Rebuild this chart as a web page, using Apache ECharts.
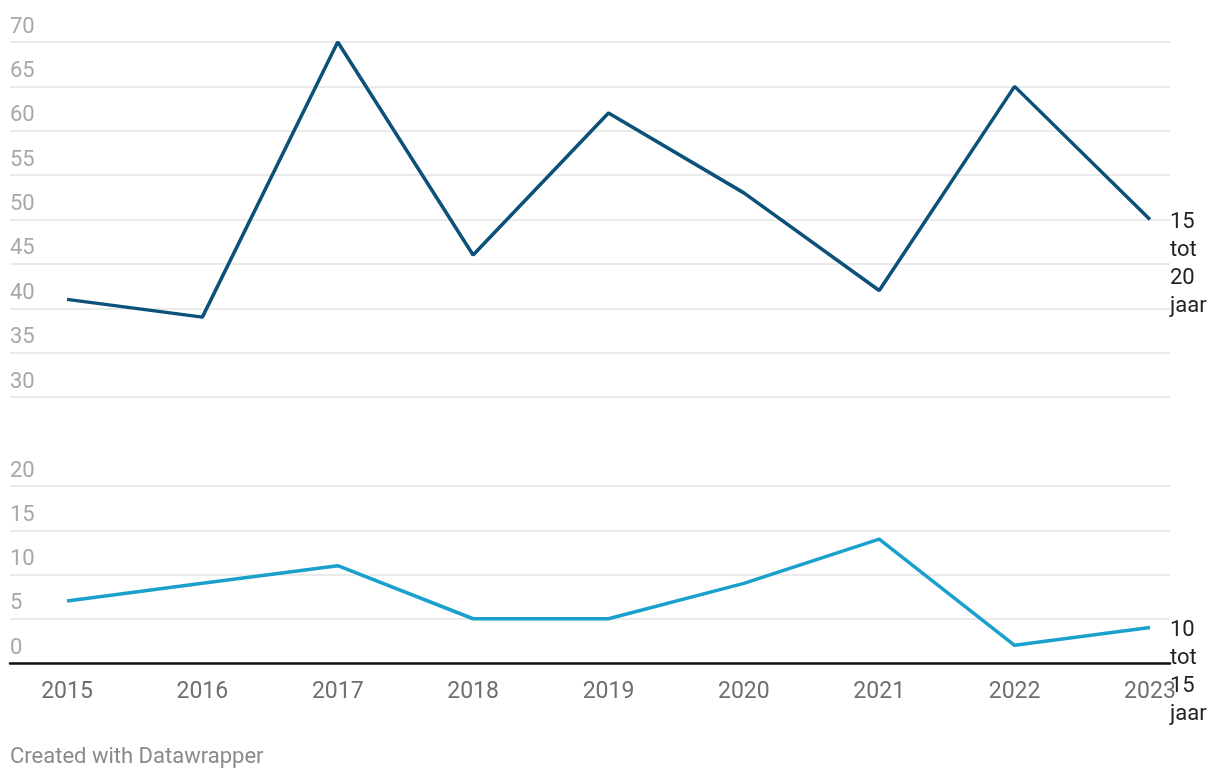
<!DOCTYPE html>
<html>
<head>
<meta charset="utf-8">
<script src="https://cdn.jsdelivr.net/npm/echarts@6/dist/echarts.min.js"></script>
<style>
  html, body { margin: 0; padding: 0; background: #fff; }
  #chart { width: 1220px; height: 780px; }
</style>
</head>
<body>
<div id="chart"></div>
<script>
const years = [2015, 2016, 2017, 2018, 2019, 2020, 2021, 2022, 2023];
const series15to20 = [41, 39, 70, 46, 62, 53, 42, 65, 50];
const series10to15 = [7, 9, 11, 5, 5, 9, 14, 2, 4];
const topTicks = [30, 35, 40, 45, 50, 55, 60, 65, 70];
const bottomTicks = [0, 5, 10, 15, 20];
const label15to20 = '15\ntot\n20\njaar';
const label10to15 = '10\ntot\n15\njaar';
const footer = 'Created with Datawrapper';

const pairs = (vals) => years.map((y, i) => [y, vals[i]]);
const FONT = 'Roboto';

const yLabel = {
  inside: true,
  margin: 0,
  verticalAlign: 'bottom',
  padding: [0, 0, 4, 0],
  color: '#a8a8a8',
  fontSize: 22,
  fontFamily: FONT
};

const chart = echarts.init(document.getElementById('chart'));
chart.setOption({
  animation: false,
  textStyle: { fontFamily: FONT },
  graphic: [{
    type: 'text', left: 10, top: 746,
    style: { text: footer, fill: '#8a8a8a', fontSize: 22, fontFamily: FONT }
  }],
  grid: [
    { left: 10, right: 50, top: 42, height: 355 },
    { left: 10, right: 50, top: 486, height: 177 }
  ],
  xAxis: [
    { gridIndex: 0, type: 'value', min: 2014.579, max: 2023.148,
      axisLine: { show: false }, axisTick: { show: false },
      axisLabel: { show: false }, splitLine: { show: false } },
    { gridIndex: 1, type: 'value', min: 2014.579, max: 2023.148,
      axisLine: { show: true, lineStyle: { color: '#111', width: 2.5 } },
      axisTick: { show: false },
      axisLabel: { show: true, customValues: years, margin: 18,
        formatter: (v) => String(Math.round(v)),
        color: '#6f6f6f', fontSize: 23, fontFamily: FONT },
      splitLine: { show: false } }
  ],
  yAxis: [
    { gridIndex: 0, type: 'value', min: 30, max: 70, interval: 5,
      axisLine: { show: false }, axisTick: { show: false },
      axisLabel: yLabel,
      splitLine: { show: true, lineStyle: { color: '#e3e3e3', width: 1.5 } } },
    { gridIndex: 1, type: 'value', min: 0, max: 20, interval: 5,
      axisLine: { show: false }, axisTick: { show: false },
      axisLabel: yLabel,
      splitLine: { show: true, lineStyle: { color: '#e3e3e3', width: 1.5 } } }
  ],
  series: [
    { type: 'line', xAxisIndex: 0, yAxisIndex: 0, data: pairs(series15to20),
      symbol: 'none', lineStyle: { color: '#0b5179', width: 3.5 },
      endLabel: { show: true, formatter: label15to20, distance: 20,
        align: 'left', verticalAlign: 'top', offset: [0, -11],
        color: '#222', fontSize: 22, lineHeight: 28, fontFamily: FONT } },
    { type: 'line', xAxisIndex: 1, yAxisIndex: 1, data: pairs(series10to15),
      symbol: 'none', lineStyle: { color: '#1aa0cc', width: 3.5 },
      endLabel: { show: true, formatter: label10to15, distance: 20,
        align: 'left', verticalAlign: 'top', offset: [0, -11],
        color: '#222', fontSize: 22, lineHeight: 28, fontFamily: FONT } }
  ]
});
</script>
</body>
</html>
